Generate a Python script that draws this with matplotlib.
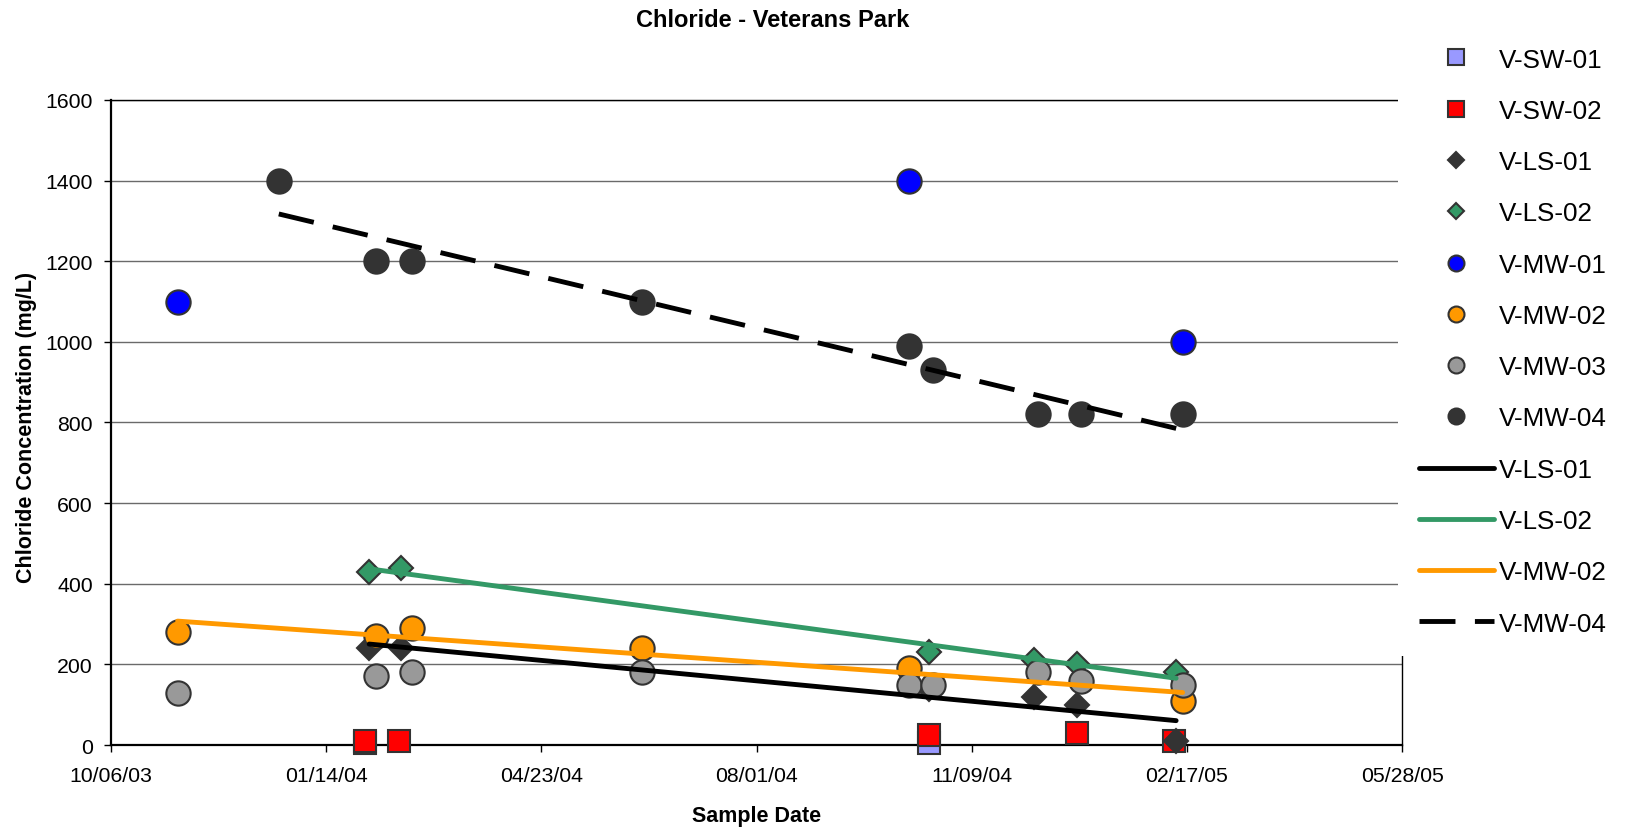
import numpy as np
import matplotlib
matplotlib.use("Agg")
import matplotlib.pyplot as plt
import matplotlib.dates as mdates
from matplotlib.lines import Line2D

plt.rcParams['font.family'] = ['Liberation Sans', 'DejaVu Sans']

# chloride results (mg/L) by sample date
sw01_dates = ['2004-02-01', '2004-10-20']
sw01_vals = [5, 5]

sw02_dates = ['2004-02-01', '2004-02-17', '2004-10-20', '2004-12-28', '2005-02-11']
sw02_vals = [10, 10, 25, 30, 10]

ls_dates = ['2004-02-03', '2004-02-18', '2004-10-20', '2004-12-08', '2004-12-28', '2005-02-12']
ls01_vals = [240, 240, 140, 120, 100, 10]
ls02_vals = [430, 440, 230, 210, 200, 180]

mw01_dates = ['2003-11-06', '2004-10-11', '2005-02-15']
mw01_vals = [1100, 1400, 1000]

mw02_dates = ['2003-11-06', '2004-02-06', '2004-02-23', '2004-06-09', '2004-10-11', '2005-02-15']
mw02_vals = [280, 270, 290, 240, 190, 110]

mw03_dates = ['2003-11-06', '2004-02-06', '2004-02-23', '2004-06-09', '2004-10-11',
              '2004-10-22', '2004-12-10', '2004-12-30', '2005-02-15']
mw03_vals = [130, 170, 180, 180, 150, 150, 180, 160, 150]

mw04_dates = ['2003-12-23', '2004-02-06', '2004-02-23', '2004-06-09', '2004-10-11',
              '2004-10-22', '2004-12-10', '2004-12-30', '2005-02-15']
mw04_vals = [1400, 1200, 1200, 1100, 990, 930, 820, 820, 820]

EDGE = '#333333'


def to_num(d):
    return mdates.date2num(np.array(d, dtype='datetime64[D]'))


fig = plt.figure(figsize=(16.29, 8.29), dpi=100)
ax = fig.add_axes([0.0681, 0.1001, 0.7926, 0.7781])

# marker series, in drawing order
points = [
    ('V-SW-01', sw01_dates, sw01_vals, 's', '#9999FF', 15.5),
    ('V-SW-02', sw02_dates, sw02_vals, 's', '#FF0000', 15.5),
    ('V-LS-01', ls_dates, ls01_vals, 'D', '#333333', 12.5),
    ('V-LS-02', ls_dates, ls02_vals, 'D', '#339966', 12.5),
    ('V-MW-01', mw01_dates, mw01_vals, 'o', '#0000FF', 17.5),
    ('V-MW-02', mw02_dates, mw02_vals, 'o', '#FF9900', 17.5),
    ('V-MW-03', mw03_dates, mw03_vals, 'o', '#999999', 17.5),
    ('V-MW-04', mw04_dates, mw04_vals, 'o', '#333333', 17.5),
]
for i, (name, d, v, m, c, s) in enumerate(points):
    ax.plot(to_num(d), v, ls='none', marker=m, ms=s, mfc=c, mec=EDGE, mew=1.5,
            zorder=3 + i, clip_on=False)

# linear trend lines over each series' date range
trends = [
    ('V-LS-01', ls_dates, ls01_vals, '#000000', '-'),
    ('V-LS-02', ls_dates, ls02_vals, '#339966', '-'),
    ('V-MW-02', mw02_dates, mw02_vals, '#FF9900', '-'),
    ('V-MW-04', mw04_dates, mw04_vals, '#000000', (0, (7.4, 4.0))),
]
for name, d, v, c, style in trends:
    x = to_num(d)
    k, b = np.polyfit(x, v, 1)
    xs = np.array([x.min(), x.max()])
    ax.plot(xs, k * xs + b, color=c, lw=3.5, ls=style, solid_capstyle='round',
            zorder=20)

# axes styling
ax.set_ylim(0, 1600)
ax.set_yticks(np.arange(0, 1601, 200))
ticks = np.arange(np.datetime64('2003-10-06'), np.datetime64('2005-05-29'), 100)
ax.set_xlim(to_num(ticks[0]), to_num(ticks[-1]))
ax.set_xticks(to_num(ticks))
ax.xaxis.set_major_formatter(mdates.DateFormatter('%m/%d/%y'))
ax.tick_params(direction='out', length=5, width=1, labelsize=15.3, color='black')
ax.tick_params(axis='y', pad=8)
ax.tick_params(axis='x', pad=10)
ax.grid(axis='y', color='#6a6a6a', lw=1)
ax.set_axisbelow(True)
for side in ['left', 'bottom']:
    ax.spines[side].set_linewidth(1.6)
for side in ['top', 'right']:
    ax.spines[side].set_linewidth(1.0)

fig.text(0.4742, 0.967, 'Chloride - Veterans Park', ha='center', va='baseline',
         fontsize=17, fontweight='bold')
fig.text(0.4643, 0.0087, 'Sample Date', ha='center', va='baseline',
         fontsize=15.5, fontweight='bold')
fig.text(0.016, 0.4843, 'Chloride Concentration (mg/L)', ha='center', va='center',
         rotation=90, fontsize=15.5, fontweight='bold')

# legend
handles = []
labels = []
for name, d, v, m, c, s in points:
    ls_ = 8 if m == 'D' else 11.5
    handles.append(Line2D([], [], ls='none', marker=m, ms=ls_, mfc=c, mec=EDGE, mew=1.5))
    labels.append(name)
for name, d, v, c, style in trends:
    handles.append(Line2D([], [], color=c, lw=3.5, ls=style, solid_capstyle='round'))
    labels.append(name)
leg = ax.legend(handles, labels, loc='upper left', bbox_to_anchor=(0.8582, 0.9665),
                bbox_transform=fig.transFigure, fontsize=18.7, frameon=True,
                facecolor='white', edgecolor='none', framealpha=1, fancybox=False,
                borderpad=0.8, borderaxespad=0, handlelength=2.89, handletextpad=0.19,
                labelspacing=1.05)
leg.set_zorder(50)

fig.savefig('out.png', dpi=100)
